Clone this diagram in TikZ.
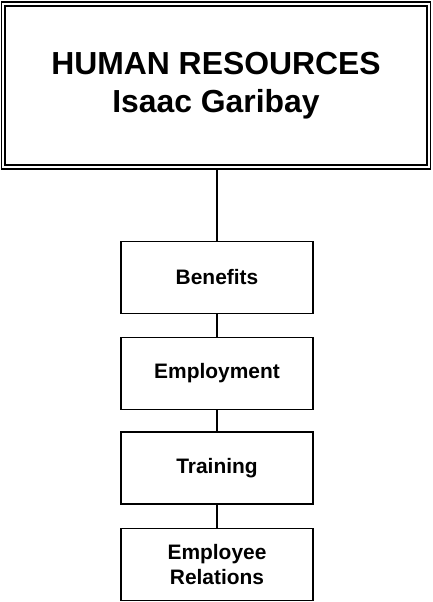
\documentclass[tikz,border=0pt]{standalone}
\usepackage{fontspec}
\setmainfont{Liberation Sans}

\begin{document}
\begin{tikzpicture}[x=1bp,y=-1bp]
\tikzset{
	head/.style={draw,
		line width=1.8bp,
		double,
		double distance=2bp,
		outer sep=2.8bp, % connector starts at the outer line
		minimum width=425bp,
		minimum height=163bp,
		align=center,
		font=\fontsize{32}{38}\selectfont\bfseries},
	dept/.style={draw,
		line width=1.5bp,
		minimum width=192bp,
		minimum height=72bp,
		inner sep=0pt,
		align=center,
		font=\fontsize{21}{25}\selectfont\bfseries},
	link/.style={line width=1.5bp}
}
\useasboundingbox (0,0) rectangle (432,602);

\node[head] (HR) at (216,85.5) {HUMAN RESOURCES\\Isaac Garibay};
\node[dept] (Ben) at (217,277.5) {Benefits};
\node[dept] (Emp) at (217,373.5) {Employment};
\node[dept] (Trn) at (217,468) {Training};
\node[dept] (Rel) at (217,564.5) {Employee\\Relations};

\draw[link] (HR.south -| Ben.north) -- (Ben.north);
\draw[link] (Ben) -- (Emp);
\draw[link] (Emp) -- (Trn);
\draw[link] (Trn) -- (Rel);
\end{tikzpicture}
\end{document}
